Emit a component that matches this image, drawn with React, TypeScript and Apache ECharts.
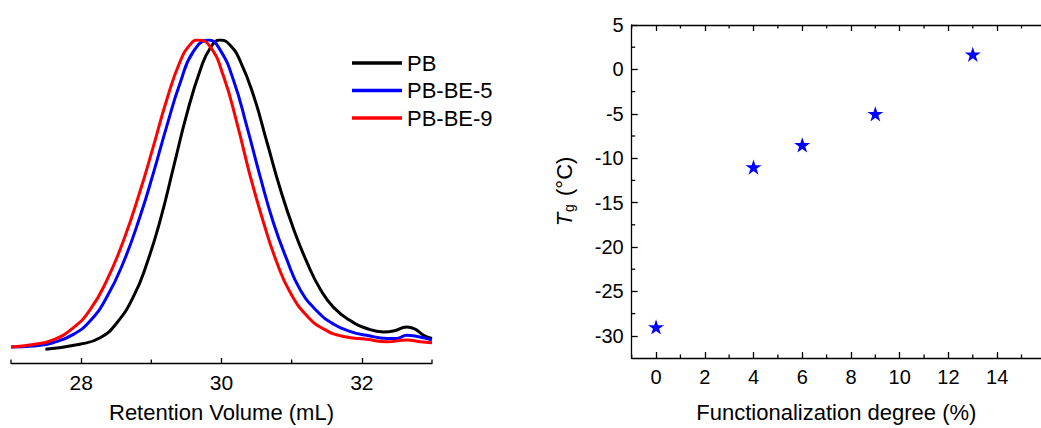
import React, { useEffect, useRef } from "react";
import * as echarts from "echarts";

const FONT = "'Liberation Sans', Arial, Helvetica, sans-serif";

// GPC traces (normalized intensity vs retention volume)
const pbX = [27.49, 27.98, 28.27, 28.51, 28.75, 28.94, 29.13, 29.32, 29.51, 29.7, 29.84, 29.98, 30.12, 30.27, 30.46, 30.65, 30.84, 31.03, 31.22, 31.41, 31.6, 31.84, 32.07, 32.31, 32.45, 32.64, 32.76, 32.88, 33.0];
const pbY = [-0.005, 0.011, 0.032, 0.081, 0.168, 0.276, 0.417, 0.59, 0.763, 0.904, 0.974, 1.0, 0.984, 0.93, 0.817, 0.666, 0.514, 0.384, 0.276, 0.189, 0.13, 0.087, 0.062, 0.051, 0.054, 0.067, 0.06, 0.04, 0.03];

const be5X = [27.0, 27.32, 27.6, 27.89, 28.13, 28.36, 28.6, 28.84, 29.03, 29.22, 29.41, 29.6, 29.82, 29.98, 30.17, 30.36, 30.55, 30.74, 30.93, 31.12, 31.36, 31.6, 31.84, 32.07, 32.36, 32.5, 32.64, 32.79, 33.0];
const be5Y = [0.002, 0.005, 0.016, 0.043, 0.087, 0.162, 0.276, 0.427, 0.568, 0.72, 0.86, 0.963, 1.0, 0.968, 0.87, 0.72, 0.557, 0.406, 0.287, 0.189, 0.119, 0.076, 0.052, 0.04, 0.03, 0.03, 0.04, 0.036, 0.025];

const be9X = [27.0, 27.32, 27.6, 27.89, 28.13, 28.36, 28.6, 28.84, 29.03, 29.22, 29.41, 29.55, 29.66, 29.84, 30.03, 30.22, 30.41, 30.6, 30.79, 30.98, 31.22, 31.46, 31.74, 32.07, 32.36, 32.64, 32.83, 33.0];
const be9Y = [0.002, 0.01, 0.025, 0.065, 0.124, 0.216, 0.346, 0.509, 0.655, 0.806, 0.93, 0.984, 1.0, 0.978, 0.881, 0.73, 0.557, 0.406, 0.276, 0.179, 0.103, 0.06, 0.036, 0.027, 0.019, 0.025, 0.019, 0.016];

const gpcNames = ["PB", "PB-BE-5", "PB-BE-9"];
const gpcColors = ["#000000", "#0000ff", "#ff0000"];

// Tg vs functionalization degree
const degree = [0, 4, 6, 9, 13];
const tg = [-29, -11, -8.5, -5, 1.7];

// tick positions
const leftMajor = [28, 30, 32];
const leftMinor = [27, 29, 31, 33];
const rightXMajor = [0, 2, 4, 6, 8, 10, 12, 14];
const rightXMinor = [-1, 1, 3, 5, 7, 9, 11, 13, 15];
const rightYMajor = [-30, -25, -20, -15, -10, -5, 0, 5];
const rightYMinor = [-27.5, -22.5, -17.5, -12.5, -7.5, -2.5, 2.5];

const STAR =
  "path://M0,-10 L2.245,-3.09 L9.511,-3.09 L3.633,1.18 L5.878,8.09 L0,3.82 L-5.878,8.09 L-3.633,1.18 L-9.511,-3.09 L-2.245,-3.09 Z";

const zip = (xs: number[], ys: number[]) => xs.map((x, i) => [x, ys[i]]);

const axisLineStyle = { color: "#000", width: 1.3 };
const blank = { show: false };

const LX = { min: 27, max: 33 };
const LY = { min: -0.05, max: 1 };
const RX = { min: -1, max: 15.8 };
const RY = { min: -32.5, max: 5 };

const MINOR_LEN = 3.5;

// minor tick marks drawn as thin rect symbols sitting on the axes
function minorTicks(
  xAxisIndex: number,
  yAxisIndex: number,
  points: number[][],
  size: number[],
  offset: number[]
) {
  return {
    type: "scatter",
    xAxisIndex,
    yAxisIndex,
    data: points,
    symbol: "rect",
    symbolSize: size,
    symbolOffset: offset,
    itemStyle: { color: "#000", opacity: 1 },
    silent: true,
    clip: false,
    z: 5,
  };
}

function buildOption() {
  return {
    animation: false,
    backgroundColor: "#fff",
    textStyle: { fontFamily: FONT, color: "#000" },
    grid: [
      { left: 11, width: 421, top: 40, bottom: 64.7 },
      { left: 631.7, right: -31, top: 25, bottom: 67 },
    ],
    legend: {
      data: gpcNames,
      orient: "vertical",
      left: 347,
      top: 46,
      icon: "rect",
      itemWidth: 50,
      itemHeight: 3.5,
      itemGap: 3.5,
      textStyle: { fontSize: 22, lineHeight: 24, fontFamily: FONT, color: "#000" },
    },
    xAxis: [
      {
        gridIndex: 0,
        type: "value",
        position: "bottom",
        ...LX,
        axisLine: { onZero: false, lineStyle: axisLineStyle },
        axisTick: { inside: true, length: 5, customValues: leftMajor, lineStyle: axisLineStyle },
        axisLabel: { customValues: leftMajor, fontSize: 21, color: "#000", margin: 9, fontFamily: FONT },
        splitLine: blank,
        name: "Retention Volume (mL)",
        nameLocation: "middle",
        nameGap: 38,
        nameTextStyle: { fontSize: 22, color: "#000", fontFamily: FONT },
      },
      {
        gridIndex: 1,
        type: "value",
        position: "bottom",
        ...RX,
        axisLine: { onZero: false, lineStyle: axisLineStyle },
        axisTick: { inside: true, length: 6, customValues: rightXMajor, lineStyle: axisLineStyle },
        axisLabel: { customValues: rightXMajor, fontSize: 20, color: "#000", margin: 9, fontFamily: FONT },
        splitLine: blank,
        name: "Functionalization degree (%)",
        nameLocation: "middle",
        nameGap: 43,
        nameTextStyle: { fontSize: 22, color: "#000", fontFamily: FONT },
      },
      {
        gridIndex: 1,
        type: "value",
        position: "top",
        ...RX,
        axisLine: { onZero: false, lineStyle: axisLineStyle },
        axisTick: { inside: true, length: 6, customValues: rightXMajor, lineStyle: axisLineStyle },
        axisLabel: blank,
        splitLine: blank,
      },
    ],
    yAxis: [
      { gridIndex: 0, type: "value", show: false, ...LY },
      {
        gridIndex: 1,
        type: "value",
        position: "left",
        ...RY,
        axisLine: { onZero: false, lineStyle: axisLineStyle },
        axisTick: { inside: true, length: 6, customValues: rightYMajor, lineStyle: axisLineStyle },
        axisLabel: { customValues: rightYMajor, fontSize: 20, color: "#000", margin: 8, fontFamily: FONT },
        splitLine: blank,
        name: "{i|T}{s|g} (°C)",
        nameLocation: "middle",
        nameGap: 56,
        nameRotate: 90,
        nameTextStyle: {
          fontSize: 22,
          color: "#000",
          fontFamily: FONT,
          rich: {
            i: { fontSize: 22, fontStyle: "italic", fontFamily: FONT, color: "#000" },
            s: { fontSize: 14, fontFamily: FONT, color: "#000", verticalAlign: "bottom", padding: [8, 2, 0, 1] },
          },
        },
      },
    ],
    series: [
      ...gpcNames.map((name, k) => ({
        name,
        type: "line",
        xAxisIndex: 0,
        yAxisIndex: 0,
        data: zip([pbX, be5X, be9X][k], [pbY, be5Y, be9Y][k]),
        showSymbol: false,
        smooth: true,
        color: gpcColors[k],
        lineStyle: { color: gpcColors[k], width: 3 },
      })),
      {
        name: "Tg",
        type: "scatter",
        xAxisIndex: 1,
        yAxisIndex: 1,
        data: zip(degree, tg),
        symbol: STAR,
        symbolSize: [16, 15.2],
        itemStyle: { color: "#0000ff", opacity: 1 },
        z: 6,
      },
      minorTicks(0, 0, leftMinor.map((v) => [v, LY.min]), [1.3, MINOR_LEN], [0, -MINOR_LEN / 2]),
      minorTicks(1, 1, rightXMinor.map((v) => [v, RY.min]), [1.3, MINOR_LEN], [0, -MINOR_LEN / 2]),
      minorTicks(1, 1, rightXMinor.map((v) => [v, RY.max]), [1.3, MINOR_LEN], [0, MINOR_LEN / 2]),
      minorTicks(1, 1, rightYMinor.map((v) => [RX.min, v]), [MINOR_LEN, 1.3], [MINOR_LEN / 2, 0]),
    ],
  };
}

export default function App() {
  const ref = useRef<HTMLDivElement>(null);
  useEffect(() => {
    const chart = echarts.init(ref.current!, null, { renderer: "svg" });
    chart.setOption(buildOption() as any);
    return () => chart.dispose();
  }, []);
  return (
    <div
      ref={ref}
      style={{ position: "absolute", left: 0, top: 0, width: 1041, height: 428 }}
    />
  );
}
